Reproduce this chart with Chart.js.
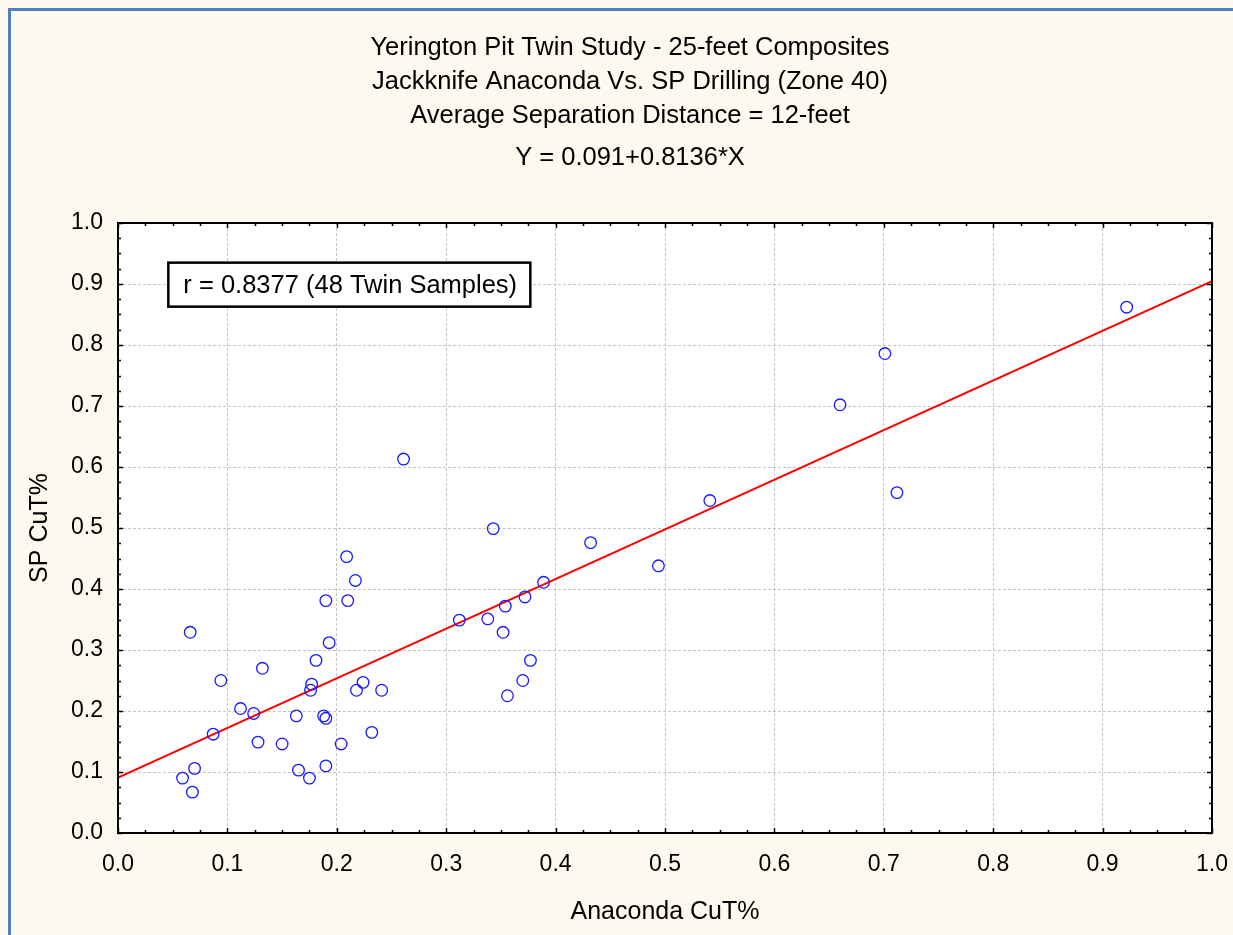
<!DOCTYPE html>
<html>
<head>
<meta charset="utf-8">
<script src="https://cdn.jsdelivr.net/npm/chart.js@4"></script>
<style>
html,body{margin:0;padding:0;background:#FDF9EE;overflow:hidden;}
#wrap{position:absolute;left:0;top:0;width:1233px;height:935px;}
#frame{position:absolute;left:8px;top:8px;width:1240px;height:940px;border-top:3px solid #4F81BD;border-left:3px solid #4F81BD;box-sizing:border-box;pointer-events:none;}
canvas{position:absolute;left:0;top:0;}
</style>
</head>
<body>
<div id="wrap"><canvas id="c" width="1233" height="935"></canvas></div>
<div id="frame"></div>
<script>
const titleLines = [
  "Yerington Pit Twin Study - 25-feet Composites",
  "Jackknife Anaconda Vs. SP Drilling (Zone 40)",
  "Average Separation Distance = 12-feet"
];
const equationText = "Y = 0.091+0.8136*X";
const annotationText = "r = 0.8377 (48 Twin Samples)";
const xAxisTitle = "Anaconda CuT%";
const yAxisTitle = "SP CuT%";
const tickValues = [0.0,0.1,0.2,0.3,0.4,0.5,0.6,0.7,0.8,0.9,1.0];

const anacondaCu = [
  0.209,0.217,0.190,0.210,0.066,0.193,0.181,0.132,0.094,0.177,
  0.176,0.224,0.218,0.241,0.112,0.124,0.163,0.188,0.190,0.087,
  0.232,0.128,0.150,0.204,0.070,0.165,0.190,0.059,0.175,0.068,
  0.261,0.343,0.432,0.389,0.372,0.354,0.312,0.338,0.352,0.377,
  0.370,0.356,0.922,0.701,0.660,0.712,0.541,0.494
];
const spCu = [
  0.453,0.414,0.381,0.381,0.329,0.312,0.283,0.270,0.250,0.244,
  0.234,0.247,0.234,0.234,0.204,0.196,0.192,0.192,0.188,0.162,
  0.165,0.149,0.146,0.146,0.106,0.103,0.110,0.090,0.090,0.067,
  0.613,0.499,0.476,0.411,0.387,0.372,0.349,0.351,0.329,0.283,
  0.250,0.225,0.862,0.786,0.702,0.558,0.545,0.438
];
const fitX = [0.0, 1.0];
const fitY = [0.091, 0.9046];

const FONT = "'Liberation Sans', Arial, sans-serif";

const framePlugin = {
  id: 'framePlugin',
  afterDatasetsDraw(chart) {
    const {ctx, chartArea: a, scales} = chart;
    const xs = scales.x, ys = scales.y;
    ctx.save();
    ctx.strokeStyle = '#000';
    ctx.lineWidth = 2;
    ctx.strokeRect(a.left, a.top, a.right - a.left, a.bottom - a.top);
    ctx.lineWidth = 1.5;
    for (let i = 0; i <= 40; i++) {
      const v = i * 0.025;
      const major = (i % 4 === 0);
      const len = major ? 5 : 3;
      const px = Math.round(xs.getPixelForValue(v)) + 0.5;
      const py = Math.round(ys.getPixelForValue(v)) + 0.5;
      ctx.beginPath();
      ctx.moveTo(px, a.bottom); ctx.lineTo(px, a.bottom - len);
      ctx.moveTo(px, a.top); ctx.lineTo(px, a.top + len);
      ctx.moveTo(a.left, py); ctx.lineTo(a.left + len, py);
      ctx.moveTo(a.right, py); ctx.lineTo(a.right - len, py);
      ctx.stroke();
    }
    ctx.restore();
  },
  afterDraw(chart) {
    const {ctx, chartArea: a, scales} = chart;
    ctx.save();
    ctx.fillStyle = '#000';
    ctx.textAlign = 'center';
    ctx.textBaseline = 'middle';
    ctx.font = "25.5px " + FONT;
    const cx = 630;
    ctx.fillText(titleLines[0], cx, 48);
    ctx.fillText(titleLines[1], cx, 82);
    ctx.fillText(titleLines[2], cx, 116);
    ctx.fillText(equationText, cx, 158);
    // annotation box
    const bx = scales.x.getPixelForValue(0.046), by = scales.y.getPixelForValue(0.935);
    const bw = 362, bh = 44;
    ctx.fillStyle = '#fff';
    ctx.fillRect(bx, by, bw, bh);
    ctx.strokeStyle = '#000';
    ctx.lineWidth = 2.5;
    ctx.strokeRect(bx, by, bw, bh);
    ctx.fillStyle = '#000';
    ctx.textAlign = 'left';
    ctx.font = "25.5px " + FONT;
    ctx.fillText(annotationText, bx + 15, by + bh / 2 + 1);
    ctx.restore();
  }
};

new Chart(document.getElementById('c'), {
  type: 'scatter',
  data: {
    datasets: [
      {
        label: 'Twin samples',
        data: anacondaCu.map((x, i) => ({x: x, y: spCu[i]})),
        showLine: false,
        pointStyle: 'circle',
        pointRadius: 5.8,
        pointHoverRadius: 5.8,
        pointBorderWidth: 1.3,
        pointBorderColor: '#1a1aff',
        pointBackgroundColor: 'rgba(0,0,0,0)',
        order: 1
      },
      {
        label: 'Fit',
        type: 'line',
        data: fitX.map((x, i) => ({x: x, y: fitY[i]})),
        borderColor: '#ff0000',
        borderWidth: 2,
        pointRadius: 0,
        fill: false,
        order: 2
      }
    ]
  },
  options: {
    responsive: false,
    animation: false,
    events: [],
    layout: {padding: {left: 0, right: 21, top: 223, bottom: 0}},
    plugins: {legend: {display: false}, tooltip: {enabled: false}, title: {display: false}},
    scales: {
      x: {
        type: 'linear', min: 0, max: 1,
        afterFit(s) { s.height = 102; s.paddingLeft = 0; s.paddingRight = 0; },
        afterBuildTicks(s) { s.ticks = tickValues.map(v => ({value: v})); },
        grid: {color: '#c4c4c4', lineWidth: 1, drawTicks: false},
        border: {display: false, dash: [3, 2]},
        ticks: {color: '#000', font: {family: FONT, size: 23}, padding: 18,
                callback: v => v.toFixed(1), maxRotation: 0, autoSkip: false},
        title: {display: true, text: xAxisTitle, color: '#000',
                font: {family: FONT, size: 25}, padding: {top: 0, bottom: 8}}
      },
      y: {
        type: 'linear', min: 0, max: 1,
        afterFit(s) { s.width = 118; s.paddingTop = 0; s.paddingBottom = 0; },
        afterBuildTicks(s) { s.ticks = tickValues.map(v => ({value: v})); },
        grid: {color: '#c4c4c4', lineWidth: 1, drawTicks: false},
        border: {display: false, dash: [3, 2]},
        ticks: {color: '#000', font: {family: FONT, size: 23}, padding: 15,
                callback: v => v.toFixed(1), autoSkip: false},
        title: {display: true, text: yAxisTitle, color: '#000',
                font: {family: FONT, size: 25}, padding: {top: 25, bottom: 0}}
      }
    }
  },
  plugins: [{
    id: 'whiteArea',
    beforeDraw(chart) {
      const {ctx, chartArea: a} = chart;
      ctx.save();
      ctx.fillStyle = '#fff';
      ctx.fillRect(a.left, a.top, a.right - a.left, a.bottom - a.top);
      ctx.restore();
    }
  }, framePlugin]
});
</script>
</body>
</html>
